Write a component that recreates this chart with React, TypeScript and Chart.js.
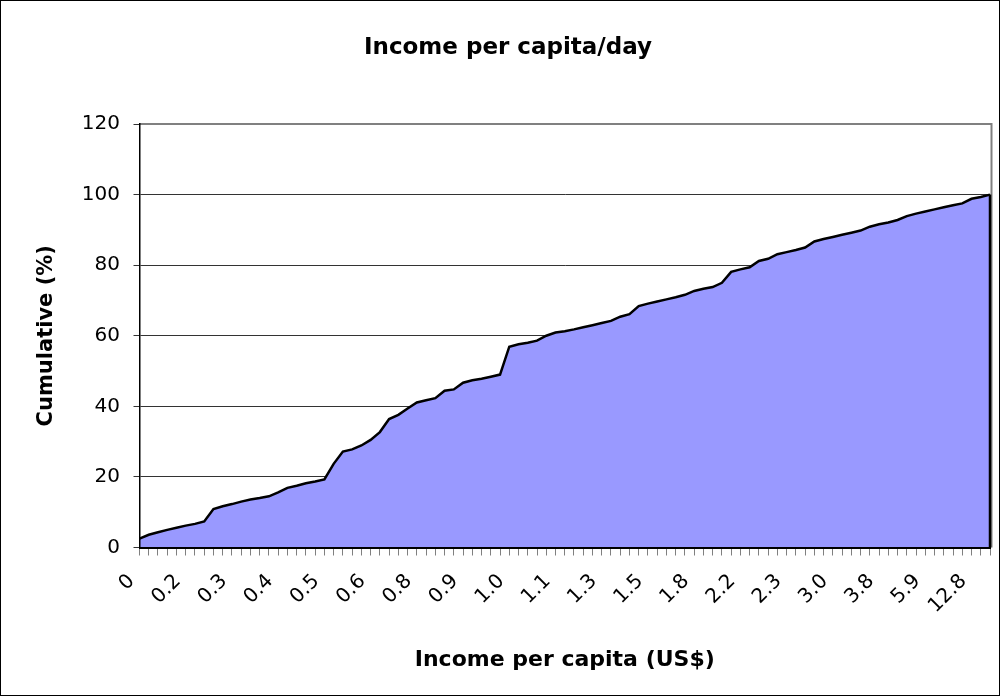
import React, { useEffect, useRef } from 'react';
import { Chart, registerables } from 'chart.js';

Chart.register(...registerables);

// Category tick labels shown every 5th category
const tickLabels = ['0', '0.2', '0.3', '0.4', '0.5', '0.6', '0.8', '0.9', '1.0', '1.1', '1.3', '1.5', '1.8', '2.2', '2.3', '3.0', '3.8', '5.9', '12.8'];
const labelEvery = 5;

// Cumulative share (%) per income category
const cumulative = [
  2.5, 3.6, 4.3, 5.0, 5.6, 6.2, 6.7, 7.4, 10.9, 11.7,
  12.3, 13.0, 13.6, 14.0, 14.5, 15.6, 16.9, 17.5, 18.2, 18.7,
  19.3, 23.7, 27.2, 27.8, 28.9, 30.5, 32.7, 36.4, 37.6, 39.4,
  41.1, 41.7, 42.3, 44.4, 44.8, 46.7, 47.4, 47.8, 48.4, 49.0,
  56.9, 57.6, 58.0, 58.6, 60.0, 60.9, 61.3, 61.8, 62.4, 63.0,
  63.6, 64.2, 65.4, 66.1, 68.4, 69.1, 69.7, 70.3, 70.9, 71.6,
  72.7, 73.3, 73.8, 75.0, 78.1, 78.8, 79.4, 81.2, 81.8, 83.1,
  83.7, 84.3, 85.0, 86.7, 87.4, 88.0, 88.6, 89.2, 89.8, 90.9,
  91.6, 92.1, 92.8, 93.9, 94.6, 95.2, 95.8, 96.4, 97.0, 97.5,
  98.8, 99.3, 100.0,
];

const yTicks = [0, 20, 40, 60, 80, 100, 120];

const FONT = "'DejaVu Sans', 'Liberation Sans', sans-serif";

export default function App() {
  const ref = useRef<HTMLCanvasElement>(null);

  useEffect(() => {
    if (!ref.current) return;
    const categories = cumulative.map((_, i) =>
      i % labelEvery === 0 ? tickLabels[i / labelEvery] ?? '' : ''
    );

    const page = {
      id: 'page',
      beforeDraw(chart: any) {
        const { ctx, width, height } = chart;
        ctx.save();
        ctx.fillStyle = '#ffffff';
        ctx.fillRect(0, 0, width, height);
        ctx.restore();
      },
      afterDraw(chart: any) {
        const { ctx, width, height } = chart;
        ctx.save();
        ctx.strokeStyle = '#000000';
        ctx.lineWidth = 1;
        ctx.strokeRect(0.5, 0.5, width - 1, height - 1);
        ctx.restore();
      },
    };

    const plotFrame = {
      id: 'plotFrame',
      afterDatasetsDraw(chart: any) {
        const { ctx, chartArea: a } = chart;
        const xs = chart.scales.x;
        const ys = chart.scales.y;
        ctx.save();
        ctx.strokeStyle = '#808080';
        ctx.lineWidth = 2;
        ctx.beginPath();
        ctx.moveTo(a.left, a.top);
        ctx.lineTo(a.right + 1.5, a.top);
        ctx.lineTo(a.right + 1.5, a.bottom);
        ctx.stroke();
        const last = cumulative.length - 1;
        const px = xs.getPixelForValue(last);
        ctx.strokeStyle = '#000000';
        ctx.lineWidth = 2.5;
        ctx.beginPath();
        ctx.moveTo(px, ys.getPixelForValue(cumulative[last]));
        ctx.lineTo(px, ys.getPixelForValue(0));
        ctx.stroke();
        ctx.restore();
      },
    };

    const chart = new Chart(ref.current, {
      type: 'line',
      data: {
        labels: categories,
        datasets: [
          {
            data: cumulative,
            fill: 'origin',
            backgroundColor: '#9999FF',
            borderColor: '#000000',
            borderWidth: 2.5,
            pointRadius: 0,
            tension: 0,
          },
        ],
      },
      options: {
        responsive: false,
        animation: false,
        devicePixelRatio: 1,
        layout: { padding: { top: 0, left: 26, right: 10, bottom: 0 } },
        plugins: {
          legend: { display: false },
          tooltip: { enabled: false },
          title: {
            display: true,
            text: 'Income per capita/day',
            color: '#000000',
            font: { family: FONT, size: 23, weight: 'bold' },
            padding: { top: 34.2, bottom: 62.2 },
          },
        },
        scales: {
          x: {
            type: 'category',
            offset: false,
            grid: {
              display: true,
              drawOnChartArea: false,
              drawTicks: true,
              tickLength: 8,
              color: '#808080',
              lineWidth: 1,
            },
            border: { display: true, color: '#000000', width: 2, z: 1 },
            ticks: {
              autoSkip: false,
              maxRotation: 45,
              minRotation: 45,
              padding: 14,
              labelOffset: -8,
              color: '#000000',
              font: { family: FONT, size: 20 },
            },
            title: {
              display: true,
              text: 'Income per capita (US$)',
              color: '#000000',
              font: { family: FONT, size: 22, weight: 'bold' },
              padding: { top: 0, bottom: 22.8 },
            },
            afterFit: (s: any) => {
              s.height = 148.5;
              s.paddingLeft = 0;
              s.paddingRight = 0;
            },
          },
          y: {
            min: 0,
            max: 120,
            afterBuildTicks: (s: any) => {
              s.ticks = yTicks.map((v) => ({ value: v }));
            },
            ticks: {
              padding: 13.5,
              color: '#000000',
              font: { family: FONT, size: 20 },
            },
            grid: {
              color: (c: any) => (c.tick && c.tick.value === 120 ? 'rgba(0,0,0,0)' : '#333333'),
              tickColor: '#333333',
              tickLength: 6,
              lineWidth: 1,
            },
            border: { display: true, color: '#000000', width: 1.5, z: 1 },
            title: {
              display: true,
              text: 'Cumulative (%)',
              color: '#000000',
              font: { family: FONT, size: 21, weight: 'bold' },
              padding: { top: 8.4, bottom: 0 },
            },
            afterFit: (s: any) => {
              s.width = 113.5;
              s.paddingTop = 0;
              s.paddingBottom = 0;
            },
          },
        },
      },
      plugins: [page, plotFrame],
    } as any);

    return () => chart.destroy();
  }, []);

  return (
    <div style={{ position: 'absolute', left: 0, top: 0, width: 1000, height: 696 }}>
      <canvas ref={ref} width={1000} height={696} style={{ display: 'block', width: 1000, height: 696 }} />
    </div>
  );
}
